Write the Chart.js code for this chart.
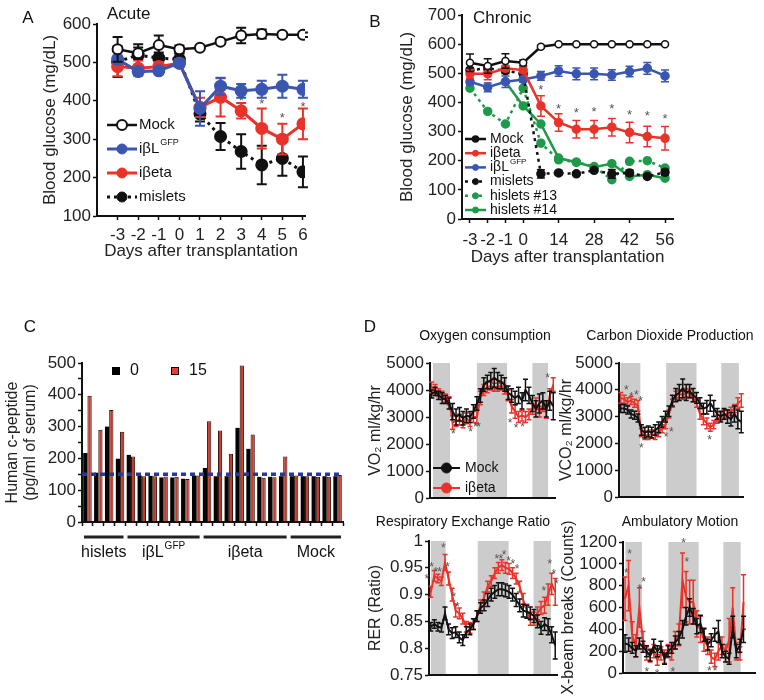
<!DOCTYPE html>
<html lang="en">
<head>
<meta charset="UTF-8">
<title>Blood glucose, c-peptide and metabolic cage data</title>
<script src="https://cdn.jsdelivr.net/npm/chart.js"></script>
<style>
  body { margin: 0; background: #fff; }
  #fig { position: relative; width: 764px; height: 700px; overflow: hidden; font-family: 'Liberation Sans', Arial, sans-serif; color: #111; }
  #fig canvas { position: absolute; }
  .c { position: absolute; transform: translate(-50%, -50%); white-space: nowrap; }
  .l { position: absolute; transform: translateY(-50%); white-space: nowrap; }
</style>
</head>
<body>
<div id="fig">
  <canvas id="chartA" width="380" height="275" style="left:0;top:0"></canvas>
  <canvas id="chartB" width="384" height="275" style="left:380px;top:0"></canvas>
  <canvas id="chartC" width="380" height="240" style="left:0;top:330px"></canvas>
  <canvas id="chartO2" width="210" height="195" style="left:360px;top:320px"></canvas>
  <canvas id="chartCO2" width="214" height="195" style="left:550px;top:320px"></canvas>
  <canvas id="chartRER" width="210" height="190" style="left:360px;top:510px"></canvas>
  <canvas id="chartAmb" width="214" height="190" style="left:550px;top:510px"></canvas>

  <div class="c" style="left:28px;top:18px;font-size:17px">A</div>
  <div class="l" style="left:107px;top:14px;font-size:17px">Acute</div>
  <div class="c" style="left:375px;top:22px;font-size:17px">B</div>
  <div class="l" style="left:473px;top:18px;font-size:17px">Chronic</div>
  <div class="c" style="left:30px;top:327px;font-size:17px">C</div>
  <div class="c" style="left:370px;top:327px;font-size:17px">D</div>
  <div class="c" style="left:485px;top:335px;font-size:14px">Oxygen consumption</div>
  <div class="c" style="left:670px;top:335px;font-size:14px">Carbon Dioxide Production</div>
  <div class="c" style="left:463px;top:521px;font-size:14px">Respiratory Exchange Ratio</div>
  <div class="c" style="left:680px;top:521px;font-size:14px">Ambulatory Motion</div>
</div>

<script>
// ---------- data: panel A (acute) ----------
const daysA = [-3, -2, -1, 0, 1, 2, 3, 4, 5, 6];
const mockA = [534, 524, 545, 534, 538, 554, 570, 574, 572, 572];
const mockAErr = [32, 15, 25, 10, 6, 6, 20, 12, 6, 6];
const betaLA = [508, 476, 478, 498, 380, 438, 426, 430, 438, 430];
const betaLAErr = [10, 8, 8, 10, 45, 22, 18, 22, 30, 22];
const betaA = [489, 485, 489, 498, 383, 409, 374, 328, 300, 340];
const betaAErr = [25, 20, 12, 10, 25, 50, 20, 52, 40, 40];
const misletsA = [502, 519, 511, 508, 366, 307, 268, 233, 250, 215];
const misletsAErr = [40, 28, 15, 15, 20, 35, 45, 50, 45, 40];
const starsA = [[3, 406], [4, 398], [5, 363], [6, 392]];

// ---------- data: panel B (chronic) ----------
const daysB = [-3, -2, -1, 0, 7, 14, 21, 28, 35, 42, 49, 56];
const tickDaysB = [-3, -2, -1, 0, 14, 28, 42, 56];
const mockB = [536, 525, 542, 536, 591, 600, 600, 600, 600, 600, 600, 600];
const mockBErr = [30, 25, 25, 10, 5, 0, 0, 0, 0, 0, 0, 0];
const betaB = [498, 498, 517, 511, 388, 331, 308, 308, 315, 297, 283, 277];
const betaBErr = [15, 20, 10, 10, 35, 30, 30, 30, 30, 35, 35, 40];
const betaLB = [471, 452, 471, 479, 491, 508, 498, 498, 494, 506, 517, 491];
const betaLBErr = [10, 15, 20, 10, 15, 18, 20, 20, 18, 18, 20, 20];
const misletsB = [511, 517, 509, 498, 155, 158, 155, 167, 155, 158, 146, 160];
const misletsBErr = [8, 10, 10, 8, 14, 8, 5, 5, 15, 10, 6, 10];
const hislets13 = [449, 369, 326, 449, 260, 203, 195, 180, 135, 198, 200, 175];
const hislets14 = [null, null, 471, 388, 326, 209, 195, 178, 190, 146, 152, 140];
const starsB = [[4, 452], [5, 388], [6, 372], [7, 377], [8, 388], [9, 365], [10, 363], [11, 352]];

// ---------- data: panel C (c-peptide) ----------
const groupNames = ['hislets', 'iβL', 'iβeta', 'Mock'];
const groupSups = ['', 'GFP', '', ''];
const groupSizes = [4, 7, 8, 5];
const cpep0 = [217, 155, 300, 199, 211, 146, 145, 140, 140, 136, 146, 170, 144, 144, 296, 230, 142, 142, 144, 144, 144, 144, 144, 144];
const cpep15 = [397, 290, 352, 284, 206, 144, 144, 143, 142, 135, 146, 317, 288, 215, 492, 275, 139, 141, 206, 146, 144, 142, 142, 148];
const cpepCutoff = 150;

// ---------- data: panel D (metabolic cages) ----------
const o2Mock = [3850, 3950, 3800, 3700, 3650, 3500, 3200, 3000, 3100, 2950, 3050, 3000, 3200, 3500, 3800, 4200, 4300, 4350, 4450, 4350, 4300, 4200, 3900, 3800, 3700, 3800, 3600, 4000, 3800, 3500, 3300, 3500, 3600, 3300, 3600, 3400];
const o2MockErr = [150, 150, 150, 200, 150, 200, 300, 300, 250, 250, 250, 200, 250, 250, 250, 250, 250, 300, 350, 300, 250, 250, 250, 250, 250, 300, 300, 400, 300, 300, 300, 350, 300, 300, 350, 500];
const o2Beta = [4100, 4000, 3900, 3800, 3700, 3600, 2800, 2850, 2900, 2800, 2950, 2850, 3000, 3000, 3700, 4000, 4100, 4150, 4100, 4100, 4150, 4000, 3800, 3400, 3200, 3000, 3050, 3000, 3100, 3300, 3500, 3200, 3400, 3200, 3800, 4200];
const o2BetaErr = [200, 200, 150, 150, 150, 150, 250, 200, 200, 200, 200, 200, 200, 250, 250, 200, 200, 150, 150, 150, 150, 150, 200, 250, 250, 200, 200, 200, 200, 200, 200, 200, 200, 250, 250, 250];
const o2Dark = [[0.36, 5.26], [13.0, 21.7], [29.0, 33.5]];
const o2Stars = [[6.2, 2460], [11.2, 2545], [12.6, 2727], [13.5, 2727], [22.6, 2850], [24.3, 2670], [26.2, 2700], [33.4, 4545]];

const co2Mock = [3300, 3300, 3250, 3100, 3050, 2950, 2500, 2400, 2450, 2400, 2500, 2600, 2800, 3000, 3200, 3600, 3800, 3900, 4050, 3900, 3950, 3800, 3700, 3500, 3300, 3350, 3500, 3300, 3100, 3000, 3100, 3000, 2900, 3100, 2900, 2800];
const co2MockErr = [150, 150, 150, 150, 150, 150, 200, 200, 200, 200, 200, 200, 200, 200, 200, 200, 250, 300, 350, 300, 250, 250, 200, 200, 200, 250, 300, 300, 200, 200, 200, 250, 250, 300, 350, 400];
const co2Beta = [3700, 3650, 3550, 3600, 3500, 3400, 2400, 2300, 2300, 2350, 2300, 2400, 2550, 2700, 3100, 3500, 3800, 3850, 3800, 3900, 3850, 3700, 3500, 3100, 2900, 2750, 2600, 2700, 2900, 3000, 3100, 3100, 3200, 3300, 3500, 3600];
const co2BetaErr = [200, 150, 150, 150, 150, 200, 150, 150, 150, 150, 150, 150, 150, 150, 150, 150, 150, 150, 150, 150, 150, 150, 150, 200, 200, 200, 150, 150, 150, 150, 150, 150, 150, 150, 200, 250];
const co2Dark = [[-0.1, 5.7], [13.2, 22.0], [29.2, 34.3]];
const co2Stars = [[1.6, 4086], [3.1, 3815], [4.5, 3877], [5.8, 3667], [6.0, 1908], [13.2, 2338], [14.7, 2523], [25.8, 2215]];

const rerMock = [0.840, 0.845, 0.840, 0.838, 0.865, 0.835, 0.828, 0.830, 0.820, 0.815, 0.830, 0.835, 0.845, 0.860, 0.875, 0.880, 0.890, 0.900, 0.905, 0.910, 0.910, 0.908, 0.905, 0.900, 0.890, 0.880, 0.870, 0.868, 0.865, 0.860, 0.850, 0.838, 0.845, 0.840, 0.825, 0.805];
const rerMockErr = [0.008, 0.008, 0.008, 0.008, 0.012, 0.01, 0.01, 0.01, 0.01, 0.01, 0.01, 0.01, 0.01, 0.01, 0.01, 0.01, 0.012, 0.012, 0.012, 0.012, 0.012, 0.012, 0.012, 0.012, 0.012, 0.012, 0.012, 0.012, 0.012, 0.012, 0.012, 0.012, 0.012, 0.015, 0.015, 0.025];
const rerBeta = [0.905, 0.935, 0.930, 0.925, 0.960, 0.930, 0.900, 0.870, 0.865, 0.855, 0.840, 0.838, 0.845, 0.860, 0.880, 0.895, 0.915, 0.925, 0.940, 0.950, 0.955, 0.950, 0.948, 0.940, 0.930, 0.915, 0.890, 0.870, 0.855, 0.855, 0.865, 0.875, 0.880, 0.900, 0.920, 0.905];
const rerBetaErr = [0.01, 0.01, 0.008, 0.008, 0.015, 0.012, 0.012, 0.012, 0.01, 0.01, 0.01, 0.01, 0.01, 0.01, 0.01, 0.01, 0.01, 0.01, 0.01, 0.01, 0.01, 0.01, 0.01, 0.01, 0.01, 0.01, 0.012, 0.012, 0.012, 0.012, 0.012, 0.012, 0.015, 0.02, 0.02, 0.025];
const rerDark = [[0.0, 4.2], [13.2, 21.9], [28.9, 33.8]];
const rerStars = [[-1.1, 0.933], [0.2, 0.955], [1.4, 0.947], [2.5, 0.947], [3.5, 0.992], [4.7, 0.956], [6.5, 0.899], [7.5, 0.882], [18.6, 0.970], [19.7, 0.970], [20.6, 0.978], [21.9, 0.967], [23.1, 0.961], [24.3, 0.953], [31.8, 0.911], [33.5, 0.961], [34.6, 0.942], [35.3, 0.924]];

const ambMock = [270, 260, 230, 200, 270, 240, 200, 160, 250, 200, 240, 130, 200, 230, 280, 320, 400, 520, 600, 520, 430, 450, 350, 260, 300, 350, 380, 200, 150, 130, 420, 200, 250, 400];
const ambMockErr = [80, 60, 50, 50, 50, 50, 50, 50, 60, 50, 50, 50, 50, 50, 60, 60, 80, 80, 80, 70, 70, 80, 60, 50, 60, 60, 100, 60, 50, 50, 100, 60, 60, 120];
const ambBeta = [680, 800, 350, 250, 600, 300, 180, 160, 200, 120, 180, 150, 200, 180, 300, 350, 850, 700, 650, 650, 450, 400, 300, 250, 150, 120, 200, 250, 200, 300, 600, 200, 180, 650];
const ambBetaErr = [200, 230, 120, 100, 180, 80, 60, 60, 60, 50, 60, 60, 60, 60, 80, 100, 250, 230, 200, 200, 120, 120, 100, 80, 60, 60, 80, 80, 60, 200, 180, 80, 60, 250];
const ambDark = [[0.1, 4.7], [12.1, 20.5], [27.4, 32.2]];
const ambStars = [[0.4, 940], [1.3, 1108], [4.1, 788], [5.2, 855], [6.1, 30], [8.9, 9], [13.3, 30], [16.3, 1209], [17.2, 1038], [23.5, 40], [25.1, 40]];

// ---------- styling ----------
const FONT = "'Liberation Sans', Arial, sans-serif";
const BLACK = '#111111';
const RED = '#e8332a';
const BLUE = '#3a56b0';
const GREEN = '#1d9a4a';
const AXIS = '#111111';

Chart.defaults.font.family = FONT;
Chart.defaults.font.size = 17;
Chart.defaults.color = '#222';
Chart.defaults.animation = false;
Chart.defaults.responsive = false;
Chart.defaults.plugins.legend.display = false;
Chart.defaults.plugins.tooltip.enabled = false;

// error bars, drawn just before their own dataset
const errorBars = {
  id: 'errorBars',
  beforeDatasetDraw(chart, args) {
    const ds = chart.data.datasets[args.index];
    if (!ds.errors) return;
    const y = chart.scales.y;
    const ctx = chart.ctx;
    const cap = ds.errCap || 3;
    ctx.save();
    ctx.setLineDash([]);
    ctx.strokeStyle = ds.borderColor;
    ctx.lineWidth = ds.errWidth || 1.5;
    args.meta.data.forEach((pt, i) => {
      const d = ds.data[i];
      const v = d && typeof d === 'object' ? d.y : d;
      const e = ds.errors[i];
      if (v == null || !e) return;
      const yHi = y.getPixelForValue(v + e);
      const yLo = y.getPixelForValue(v - e);
      ctx.beginPath();
      ctx.moveTo(pt.x, yLo); ctx.lineTo(pt.x, yHi);
      ctx.moveTo(pt.x - cap, yHi); ctx.lineTo(pt.x + cap, yHi);
      ctx.moveTo(pt.x - cap, yLo); ctx.lineTo(pt.x + cap, yLo);
      ctx.stroke();
    });
    ctx.restore();
  }
};

// significance asterisks
const stars = {
  id: 'stars',
  afterDatasetsDraw(chart, args, opts) {
    if (!opts.points) return;
    const { ctx, scales: { x, y } } = chart;
    const size = opts.size || 13;
    ctx.save();
    ctx.fillStyle = '#555';
    ctx.font = size + 'px ' + FONT;
    ctx.textAlign = 'center';
    ctx.textBaseline = 'middle';
    opts.points.forEach(([a, b]) => {
      ctx.fillText('*', x.getPixelForValue(a), y.getPixelForValue(b) + size * 0.25);
    });
    ctx.restore();
  }
};

// grey dark-phase bands
const bands = {
  id: 'bands',
  beforeDatasetsDraw(chart, args, opts) {
    if (!opts.ranges) return;
    const { ctx, chartArea: a, scales: { x } } = chart;
    ctx.save();
    ctx.fillStyle = '#cccccc';
    opts.ranges.forEach(([s, e]) => {
      const x0 = Math.max(x.getPixelForValue(s), a.left + 1);
      const x1 = Math.min(x.getPixelForValue(e), a.right);
      ctx.fillRect(x0, a.top, x1 - x0, a.bottom - a.top - 1);
    });
    ctx.restore();
  }
};

// line legend drawn inside the plot
const inLegend = {
  id: 'inLegend',
  afterDraw(chart, args, opts) {
    if (opts.y0 == null) return;
    const { ctx, chartArea: a } = chart;
    chart.data.datasets.forEach((ds, i) => {
      const y = a.top + opts.y0 + i * opts.dy;
      const x0 = a.left + opts.x0;
      const x1 = x0 + opts.len;
      ctx.save();
      ctx.strokeStyle = ds.borderColor;
      ctx.lineWidth = ds.borderWidth;
      ctx.setLineDash(ds.borderDash || []);
      ctx.beginPath(); ctx.moveTo(x0, y); ctx.lineTo(x1, y); ctx.stroke();
      ctx.setLineDash([]);
      ctx.beginPath();
      ctx.arc((x0 + x1) / 2, y, opts.r, 0, Math.PI * 2);
      ctx.fillStyle = ds.legendFill || ds.pointBackgroundColor || ds.borderColor;
      ctx.fill();
      ctx.lineWidth = ds.pointBorderWidth || 1;
      ctx.strokeStyle = ds.pointBorderColor || ds.borderColor;
      ctx.stroke();
      ctx.font = opts.size + 'px ' + FONT;
      ctx.fillStyle = '#111';
      ctx.textBaseline = 'middle';
      ctx.textAlign = 'left';
      const tx = x1 + opts.gap;
      ctx.fillText(ds.label, tx, y);
      if (ds.sup) {
        const w = ctx.measureText(ds.label).width;
        ctx.font = Math.round(opts.size * 0.6) + 'px ' + FONT;
        ctx.fillText(ds.sup, tx + w + 1, y - opts.size * 0.4);
      }
      ctx.restore();
    });
  }
};

// square legend for the bar chart
const boxLegend = {
  id: 'boxLegend',
  afterDraw(chart, args, opts) {
    if (opts.y0 == null) return;
    const { ctx, chartArea: a } = chart;
    chart.data.datasets.forEach((ds, i) => {
      const x = a.left + opts.x0 + i * opts.step;
      const y = a.top + opts.y0;
      ctx.save();
      ctx.fillStyle = ds.legendColor;
      ctx.fillRect(x, y, opts.box, opts.box);
      ctx.strokeStyle = '#000';
      ctx.lineWidth = 1;
      ctx.strokeRect(x + 0.5, y + 0.5, opts.box - 1, opts.box - 1);
      ctx.font = opts.size + 'px ' + FONT;
      ctx.fillStyle = '#111';
      ctx.textBaseline = 'middle';
      ctx.fillText(ds.label, x + opts.gap, y + opts.box / 2);
      ctx.restore();
    });
  }
};

// horizontal dotted detection-limit line
const refLine = {
  id: 'refLine',
  afterDatasetsDraw(chart, args, opts) {
    if (opts.value == null) return;
    const { ctx, chartArea: a, scales: { y } } = chart;
    const py = y.getPixelForValue(opts.value);
    ctx.save();
    ctx.strokeStyle = '#2b36a6';
    ctx.lineWidth = 3.5;
    ctx.setLineDash([5, 4]);
    ctx.beginPath(); ctx.moveTo(a.left, py); ctx.lineTo(a.right, py); ctx.stroke();
    ctx.restore();
  }
};

// group underlines and names below the bar chart
const groupLabels = {
  id: 'groupLabels',
  afterDraw(chart, args, opts) {
    if (!opts.names) return;
    const { ctx, chartArea: a, scales: { x } } = chart;
    const step = x.getPixelForValue(1) - x.getPixelForValue(0);
    let first = 0;
    opts.names.forEach((name, g) => {
      const last = first + opts.sizes[g] - 1;
      const x0 = x.getPixelForValue(first) - step / 2 + 2;
      const x1 = x.getPixelForValue(last) + step / 2 - 2;
      ctx.save();
      ctx.strokeStyle = '#222';
      ctx.lineWidth = 3;
      ctx.beginPath(); ctx.moveTo(x0, a.bottom + 15); ctx.lineTo(x1, a.bottom + 15); ctx.stroke();
      ctx.font = opts.size + 'px ' + FONT;
      const w = ctx.measureText(name).width;
      const supFont = Math.round(opts.size * 0.65) + 'px ' + FONT;
      ctx.font = supFont;
      const ws = opts.sups[g] ? ctx.measureText(opts.sups[g]).width + 1 : 0;
      const tx = (x0 + x1) / 2 - (w + ws) / 2;
      const ty = a.bottom + 31;
      ctx.fillStyle = '#111';
      ctx.textBaseline = 'middle';
      ctx.font = opts.size + 'px ' + FONT;
      ctx.fillText(name, tx, ty);
      if (opts.sups[g]) {
        ctx.font = supFont;
        ctx.fillText(opts.sups[g], tx + w + 1, ty - opts.size * 0.45);
      }
      ctx.restore();
      first = last + 1;
    });
  }
};

Chart.register(errorBars, stars, bands, inLegend, boxLegend, refLine, groupLabels);

function xy(xs, ys) {
  return ys.map((y, i) => ({ x: xs[i], y: y }));
}
const idx = arr => arr.map((_, i) => i);

// ---------- panel A ----------
new Chart(document.getElementById('chartA'), {
  type: 'line',
  data: {
    datasets: [
      { label: 'Mock', data: xy(daysA, mockA), errors: mockAErr, borderColor: BLACK, borderWidth: 2.5,
        pointRadius: 5, pointBackgroundColor: '#fff', pointBorderColor: BLACK, pointBorderWidth: 2, errCap: 5, errWidth: 2 },
      { label: 'iβL', sup: 'GFP', data: xy(daysA, betaLA), errors: betaLAErr, borderColor: BLUE, borderWidth: 3,
        pointRadius: 5, pointBackgroundColor: BLUE, pointBorderColor: BLUE, errCap: 5, errWidth: 2 },
      { label: 'iβeta', data: xy(daysA, betaA), errors: betaAErr, borderColor: RED, borderWidth: 3,
        pointRadius: 5, pointBackgroundColor: RED, pointBorderColor: RED, errCap: 5, errWidth: 2 },
      { label: 'mislets', data: xy(daysA, misletsA), errors: misletsAErr, borderColor: BLACK, borderWidth: 3, borderDash: [3, 4],
        pointRadius: 5, pointBackgroundColor: BLACK, pointBorderColor: BLACK, errCap: 5, errWidth: 2 }
    ]
  },
  options: {
    layout: { padding: { left: 0, top: 24, right: 75, bottom: 9 } },
    scales: {
      x: {
        type: 'linear', min: -4, max: 6.1,
        afterBuildTicks: s => { s.ticks = daysA.map(v => ({ value: v })); },
        afterFit: s => { s.height = 50; },
        grid: { drawOnChartArea: false, tickLength: 4, color: AXIS, tickWidth: 1.5 },
        border: { color: AXIS, width: 2 },
        ticks: { padding: 5, color: '#222' },
        title: { display: true, text: 'Days after transplantation', color: '#222', padding: { top: 0, bottom: 4 } }
      },
      y: {
        min: 100, max: 600,
        afterFit: s => { s.width = 97; },
        grid: { drawOnChartArea: false, tickLength: 4, color: AXIS, tickWidth: 1.5 },
        border: { color: AXIS, width: 2 },
        ticks: { stepSize: 100, padding: 2, color: '#222' },
        title: { display: true, text: 'Blood glucose (mg/dL)', color: '#222', padding: { top: 40, bottom: 0 } }
      }
    },
    plugins: {
      stars: { points: starsA, size: 13 },
      inLegend: { x0: 10, len: 30, gap: 2, y0: 101, dy: 24, size: 15, r: 5 }
    }
  }
});

// ---------- panel B ----------
const posB = idx(daysB);
new Chart(document.getElementById('chartB'), {
  type: 'line',
  data: {
    datasets: [
      { label: 'Mock', data: xy(posB, mockB), errors: mockBErr, borderColor: BLACK, borderWidth: 2.5, legendFill: BLACK,
        pointRadius: 3.5, pointBackgroundColor: '#fff', pointBorderColor: BLACK, pointBorderWidth: 1.5, errCap: 4 },
      { label: 'iβeta', data: xy(posB, betaB), errors: betaBErr, borderColor: RED, borderWidth: 2.5,
        pointRadius: 3.5, pointBackgroundColor: RED, pointBorderColor: RED, errCap: 4 },
      { label: 'iβL', sup: 'GFP', data: xy(posB, betaLB), errors: betaLBErr, borderColor: BLUE, borderWidth: 2.5,
        pointRadius: 3.5, pointBackgroundColor: BLUE, pointBorderColor: BLUE, errCap: 4 },
      { label: 'mislets', data: xy(posB, misletsB), errors: misletsBErr, borderColor: BLACK, borderWidth: 2.5, borderDash: [3, 4],
        pointRadius: 3.5, pointBackgroundColor: BLACK, pointBorderColor: BLACK, errCap: 4 },
      { label: 'hislets #13', data: xy(posB, hislets13), borderColor: GREEN, borderWidth: 2.5, borderDash: [3, 4],
        pointRadius: 3.5, pointBackgroundColor: GREEN, pointBorderColor: GREEN },
      { label: 'hislets #14', data: xy(posB, hislets14), borderColor: GREEN, borderWidth: 2.5,
        pointRadius: 3.5, pointBackgroundColor: GREEN, pointBorderColor: GREEN }
    ]
  },
  options: {
    layout: { padding: { left: 0, top: 15, right: 91, bottom: 6 } },
    scales: {
      x: {
        type: 'linear', min: -0.45, max: 11.45,
        afterBuildTicks: s => { s.ticks = tickDaysB.map(d => ({ value: daysB.indexOf(d) })); },
        afterFit: s => { s.height = 50; },
        grid: { drawOnChartArea: false, tickLength: 4, color: AXIS, tickWidth: 1.5 },
        border: { color: AXIS, width: 2 },
        ticks: { padding: 7, color: '#222', callback: v => daysB[v] },
        title: { display: true, text: 'Days after transplantation', color: '#222', padding: { top: 0, bottom: 1 } }
      },
      y: {
        min: 0, max: 700,
        afterFit: s => { s.width = 82; },
        grid: { drawOnChartArea: false, tickLength: 4, color: AXIS, tickWidth: 1.5 },
        border: { color: AXIS, width: 2 },
        ticks: { stepSize: 100, padding: 2, color: '#222' },
        title: { display: true, text: 'Blood glucose (mg/dL)', color: '#222', padding: { top: 17, bottom: 0 } }
      }
    },
    plugins: {
      stars: { points: starsB, size: 13 },
      inLegend: { x0: 3, len: 21, gap: 4, y0: 124, dy: 14.2, size: 14, r: 3 }
    }
  }
});

// ---------- panel C ----------
const cpepLabels = groupNames.flatMap((g, i) => Array.from({ length: groupSizes[i] }, (_, k) => g + ' ' + (k + 1)));
new Chart(document.getElementById('chartC'), {
  type: 'bar',
  data: {
    labels: cpepLabels,
    datasets: [
      { label: '0', data: cpep0, backgroundColor: '#050505', borderColor: '#000', borderWidth: 0,
        legendColor: '#000', categoryPercentage: 0.78, barPercentage: 1 },
      { label: '15', data: cpep15, backgroundColor: '#c63a2d', borderColor: '#2a0805', borderWidth: 1,
        legendColor: '#ee3a30', categoryPercentage: 0.78, barPercentage: 1 }
    ]
  },
  options: {
    layout: { padding: { left: 0, top: 33, right: 37, bottom: 8 } },
    scales: {
      x: {
        afterFit: s => { s.height = 40; },
        grid: { drawOnChartArea: false, tickLength: 4, color: AXIS, tickWidth: 1.5 },
        border: { color: AXIS, width: 2 },
        ticks: { display: false }
      },
      y: {
        min: 0, max: 500,
        afterFit: s => { s.width = 82; },
        grid: { drawOnChartArea: false, tickLength: 4, color: AXIS, tickWidth: 1.5 },
        border: { color: AXIS, width: 2 },
        ticks: { stepSize: 50, autoSkip: false, padding: 2, color: '#222', callback: v => (v % 100 === 0 ? v : '') },
        title: { display: true, text: ['Human c-peptide', '(pg/ml of serum)'], color: '#222',
          font: { size: 16, lineHeight: 1.15 }, padding: { top: 3, bottom: 0 } }
      }
    },
    plugins: {
      refLine: { value: cpepCutoff },
      boxLegend: { x0: 30, y0: 4, step: 59, box: 8, gap: 18, size: 16 },
      groupLabels: { names: groupNames, sups: groupSups, sizes: groupSizes, size: 16 }
    }
  }
});

// ---------- panel D ----------
function cageChart(id, c) {
  const xs = idx(c.mock);
  return new Chart(document.getElementById(id), {
    type: 'line',
    data: {
      datasets: [
        { label: 'Mock', data: xy(xs, c.mock), errors: c.mockErr, borderColor: BLACK, borderWidth: 2,
          pointRadius: 0, pointBackgroundColor: BLACK, errCap: 2.5, errWidth: 1.5 },
        { label: 'iβeta', data: xy(xs, c.beta), errors: c.betaErr, borderColor: RED, borderWidth: 2,
          pointRadius: 0, pointBackgroundColor: RED, errCap: 2.5, errWidth: 1.5 }
      ]
    },
    options: {
      layout: { padding: c.pad },
      scales: {
        x: {
          type: 'linear', min: c.xMin, max: c.xMax,
          afterFit: s => { s.height = 5; },
          grid: { display: false },
          border: { color: AXIS, width: 2 },
          ticks: { display: false }
        },
        y: {
          min: c.yMin, max: c.yMax,
          afterFit: s => { s.width = c.yWidth; },
          grid: { drawOnChartArea: false, tickLength: 4, color: AXIS, tickWidth: 1.5 },
          border: { color: AXIS, width: 2 },
          ticks: { stepSize: c.step, autoSkip: false, padding: 2, color: '#222', callback: v => String(+v.toFixed(2)) },
          title: { display: true, text: c.title, color: '#222', font: { size: 16, lineHeight: 1 },
            padding: { top: c.titlePad, bottom: 0 } }
        }
      },
      plugins: {
        bands: { ranges: c.dark },
        stars: { points: c.stars, size: 12 },
        inLegend: c.legend || {}
      }
    }
  });
}

cageChart('chartO2', {
  mock: o2Mock, mockErr: o2MockErr, beta: o2Beta, betaErr: o2BetaErr, dark: o2Dark, stars: o2Stars,
  pad: { left: 0, top: 43, right: 15, bottom: 12 }, xMin: -0.5, xMax: 35.5,
  yMin: 0, yMax: 5000, step: 1000, yWidth: 70, title: 'VO₂ ml/kg/hr', titlePad: 8,
  legend: { x0: 3, len: 27, gap: 5, y0: 105, dy: 20, size: 14, r: 5 }
});
cageChart('chartCO2', {
  mock: co2Mock, mockErr: co2MockErr, beta: co2Beta, betaErr: co2BetaErr, dark: co2Dark, stars: co2Stars,
  pad: { left: 0, top: 43, right: 21, bottom: 13 }, xMin: -0.5, xMax: 35.5,
  yMin: 0, yMax: 5000, step: 1000, yWidth: 69, title: 'VCO₂ ml/kg/hr', titlePad: 9
});
cageChart('chartRER', {
  mock: rerMock, mockErr: rerMockErr, beta: rerBeta, betaErr: rerBetaErr, dark: rerDark, stars: rerStars,
  pad: { left: 0, top: 31, right: 13, bottom: 20 }, xMin: -0.5, xMax: 35.5,
  yMin: 0.75, yMax: 1, step: 0.05, yWidth: 69, title: 'RER (Ratio)', titlePad: 8
});
cageChart('chartAmb', {
  mock: ambMock, mockErr: ambMockErr, beta: ambBeta, betaErr: ambBetaErr, dark: ambDark, stars: ambStars,
  pad: { left: 0, top: 32, right: 9, bottom: 22 }, xMin: -0.56, xMax: 36.2,
  yMin: 0, yMax: 1200, step: 200, yWidth: 73, title: 'X-beam breaks (Counts)', titlePad: 11
});
</script>
</body>
</html>
